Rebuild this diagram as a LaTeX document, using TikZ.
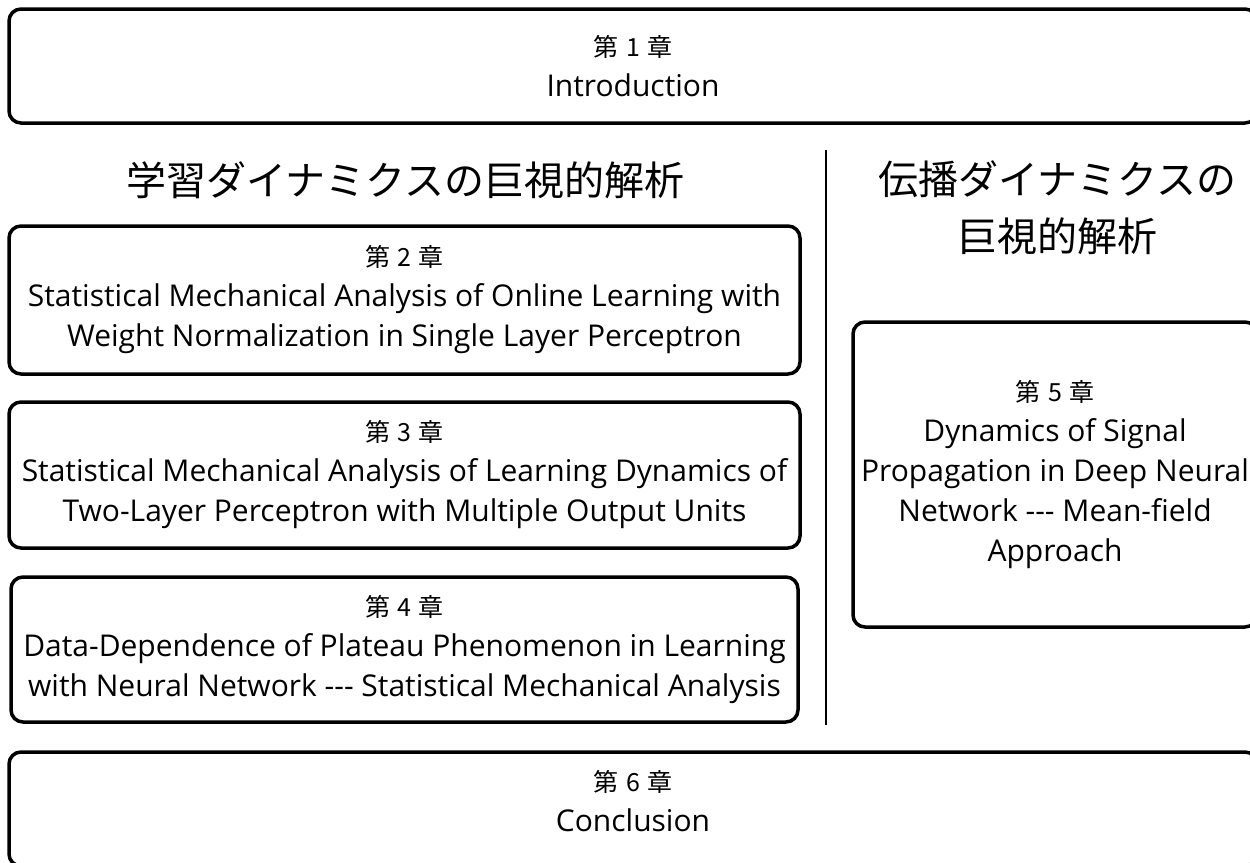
\documentclass[tikz,border=0pt]{standalone}
\usepackage{fontspec}
\setmainfont{Open Sans}
\newfontfamily\cjk{Noto Sans CJK JP}
\usetikzlibrary{positioning}
\newcommand{\tripledash}{\mbox{-}\mbox{-}\mbox{-}}
\newcommand{\chap}[1]{{\cjk\fontsize{25}{40}\selectfont 第\hspace{0.3em}#1\hspace{0.3em}章}}

\begin{document}
\begin{tikzpicture}[x=1pt,y=-1pt,line width=3.5pt]

	\tikzset{
		chapter/.style={
				draw=black, rounded corners=12pt, align=center, inner sep=0pt, font=\fontsize{30}{40}\selectfont
			},
		heading/.style={
				align=center, font=\cjk\fontsize{40}{57}\selectfont
			},
	}
	\useasboundingbox (0,0) rectangle (1250,862);
	\clip (0,0) rectangle (1250,862);

	\node[chapter, minimum width=1248pt, minimum height=114pt](ch1) at (633,66){\chap{1}\\Introduction};

	\node[heading](learn) at (405,180){学習ダイナミクスの巨視的解析};
	\node[heading](prop) at (1057,208){伝播ダイナミクスの\\巨視的解析};

	\node[chapter, minimum width=791pt, minimum height=148pt](ch2) at (404.5,300){\chap{2}\\Statistical Mechanical Analysis of Online Learning with\\Weight Normalization in Single Layer Perceptron};
	\node[chapter, minimum width=791pt, minimum height=146pt](ch3) at (404.5,475){\chap{3}\\Statistical Mechanical Analysis of Learning Dynamics of\\Two-Layer Perceptron with Multiple Output Units};
	\node[chapter, minimum width=787pt, minimum height=145pt](ch4) at (404.5,649.5){\chap{4}\\Data-Dependence of Plateau Phenomenon in Learning\\with Neural Network \tripledash{} Statistical Mechanical Analysis};

	\node[chapter, minimum width=404pt, minimum height=305pt](ch5) at (1055,474.5){\chap{5}\\Dynamics of Signal\\Propagation in Deep Neural\\Network \tripledash{} Mean-field\\Approach};

	\node[chapter, minimum width=1248pt, minimum height=114pt](ch6) at (633,809){\chap{6}\\Conclusion\rule[-16pt]{0pt}{16pt}};

	\coordinate (septop) at (826,150);
	\coordinate (sepbot) at (826,725);
	\draw[line width=2pt] (septop) -- (sepbot);

\end{tikzpicture}
\end{document}
